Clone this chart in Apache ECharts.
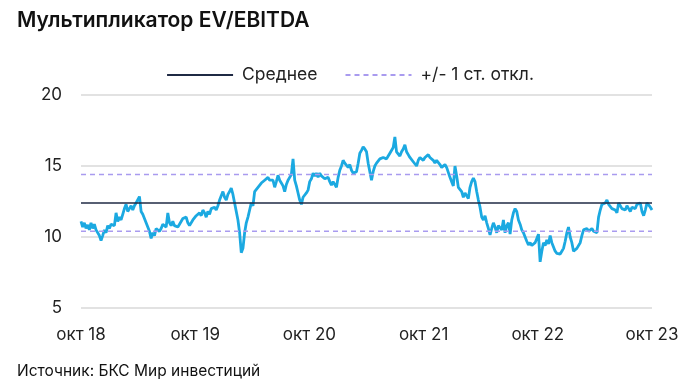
<!DOCTYPE html>
<html>
<head>
<meta charset="utf-8">
<script src="https://cdn.jsdelivr.net/npm/echarts@6/dist/echarts.min.js"></script>
<style>
  html, body { margin: 0; padding: 0; background: #fff; }
  #chart { width: 700px; height: 388px; }
</style>
</head>
<body>
<div id="chart"></div>
<script>
// Chart title and source
var titleText = 'Мультипликатор EV/EBITDA';
var sourceText = 'Источник: БКС Мир инвестиций';

// X axis: months since Oct 2018, labelled yearly
var xTickLabels = ['окт 18', 'окт 19', 'окт 20', 'окт 21', 'окт 22', 'окт 23'];
var xMonthsSpan = 60;

// Y axis
var yTicks = [5, 10, 15, 20];

// Legend names
var meanName = 'Среднее';
var sdName = '+/- 1 ст. откл.';

// Reference levels
var meanValue = 12.4;
var sdUpperValue = 14.4;
var sdLowerValue = 10.4;

// EV/EBITDA series (evenly spaced observations, Oct 2018 – Oct 2023)
var evEbitda = [
  11.1,10.7,11.0,10.6,10.85,10.5,11.0,10.6,10.9,10.5,10.4,10.1,9.75,10.1,10.5,10.3,10.8,10.6,10.9,11.0,
  10.8,11.7,11.1,11.4,11.2,11.6,12.0,12.3,11.8,12.0,12.2,11.9,12.2,12.4,12.5,12.85,11.8,11.6,11.3,11.0,
  10.7,10.4,9.9,10.3,10.1,10.6,10.7,10.4,10.6,10.9,10.8,10.7,11.7,11.0,10.8,11.1,10.8,10.9,10.7,10.9,
  11.0,11.3,11.2,11.4,11.0,10.8,10.9,11.2,11.3,11.5,11.4,11.7,11.5,11.9,11.7,11.4,11.8,11.6,12.0,12.0,
  12.1,11.9,12.2,12.6,12.9,13.2,12.8,12.6,13.0,13.2,13.45,13.0,12.4,11.8,11.2,10.3,8.9,9.2,10.3,11.0,
  11.4,11.9,12.4,12.2,13.2,13.3,13.5,13.6,13.8,13.9,14.0,14.1,14.2,
  14.0,13.9,14.0,13.5,13.9,14.35,14.0,13.8,13.6,13.2,13.7,14.0,14.2,14.4,15.5,14.0,13.6,13.1,12.6,12.3,
  12.8,12.7,13.1,13.3,13.9,14.1,14.5,14.3,14.5,14.2,14.5,14.3,14.3,14.1,14.0,14.2,13.9,13.65,13.9,13.8,
  13.5,14.2,14.7,15.0,15.4,15.2,15.3,14.9,15.1,14.7,14.5,14.6,14.6,15.2,15.9,16.1,16.35,16.2,16.0,15.2,
  14.6,14.0,14.6,15.0,15.2,15.3,15.5,15.4,15.6,15.6,15.5,15.7,15.9,16.0,16.3,17.05,16.0,15.9,15.7,16.0,
  16.2,16.5,16.0,15.8,15.6,15.5,15.3,15.2,15.0,15.4,15.6,15.7,15.4,15.6,15.7,15.8,15.6,15.7,15.4,15.2,
  15.4,15.3,15.1,14.9,15.0,15.1,14.9,14.85,14.2,
  13.9,13.6,15.0,14.3,13.5,13.4,13.2,12.8,13.1,12.9,12.7,13.5,13.9,14.15,13.9,13.2,12.6,12.1,11.4,11.2,
  11.5,11.0,10.6,10.15,10.6,11.0,10.7,10.3,10.8,10.9,10.5,11.2,10.3,10.8,11.0,10.2,11.2,11.7,12.0,11.8,
  11.2,10.9,10.5,10.3,10.0,9.7,9.45,9.6,9.4,9.5,9.6,9.9,10.2,8.25,9.0,9.6,9.4,9.8,9.5,10.1,
  9.6,9.3,9.0,8.85,8.9,8.8,9.0,9.2,9.7,10.3,10.7,10.0,9.6,9.0,8.9,9.2,9.3,9.6,10.1,10.5,
  10.4,10.6,10.4,10.5,10.6,10.4,10.5,10.3,11.4,11.9,12.3,12.2,12.4,12.6,12.3,12.2,12.0,12.1,11.9,11.7,
  12.4,12.2,12.0,12.1,11.9,12.2,12.0,11.8,12.1,12.2,12.0,12.3,12.2,12.4,11.8,11.5,11.9,12.4,12.3,12.1,
  11.9
];

var n = evEbitda.length;
var mainData = evEbitda.map(function (v, i) { return [i * xMonthsSpan / (n - 1), v]; });
function flat(v) { return [[0, v], [xMonthsSpan, v]]; }

var font = 'Inter, Roboto, "Noto Sans", sans-serif';
var chart = echarts.init(document.getElementById('chart'), null, { renderer: 'canvas' });
chart.setOption({
  animation: false,
  backgroundColor: '#ffffff',
  title: [
    { text: titleText, left: 12, top: 5,
      textStyle: { fontFamily: font, fontSize: 21, fontWeight: 600, color: '#111111' } },
    { text: sourceText, left: 12, top: 358,
      textStyle: { fontFamily: font, fontSize: 15.5, fontWeight: 400, color: '#111111' } }
  ],
  legend: {
    data: [meanName, sdName],
    top: 61,
    left: 'center',
    itemWidth: 66,
    itemHeight: 10,
    itemGap: 27,
    itemStyle: { opacity: 0 },
    textStyle: { fontFamily: font, fontSize: 17.5, color: '#222222', padding: [0, 0, 0, 4] }
  },
  grid: { left: 81, right: 48, top: 95, bottom: 80, containLabel: false },
  xAxis: {
    type: 'value',
    min: 0,
    max: xMonthsSpan,
    interval: 12,
    axisLine: { show: false },
    axisTick: { show: false },
    splitLine: { show: false },
    axisLabel: {
      margin: 18,
      fontFamily: font, fontSize: 17, color: '#222222',
      showMinLabel: true, showMaxLabel: true,
      formatter: function (v) { return xTickLabels[Math.round(v / 12)]; }
    }
  },
  yAxis: {
    type: 'value',
    min: yTicks[0],
    max: yTicks[yTicks.length - 1],
    interval: 5,
    axisLine: { show: false },
    axisTick: { show: false },
    splitLine: { show: true, lineStyle: { color: '#d9d9d9', width: 1.5 } },
    axisLabel: { margin: 19, fontFamily: font, fontSize: 17, color: '#222222' }
  },
  series: [
    { name: meanName, type: 'line', data: flat(meanValue), symbol: 'none', silent: true,
      lineStyle: { color: '#1f2a44', width: 1.5 }, itemStyle: { color: '#1f2a44' }, z: 3 },
    { name: sdName, type: 'line', data: flat(sdUpperValue), symbol: 'none', silent: true,
      lineStyle: { color: '#a99bef', width: 1.5, type: [5, 4] }, itemStyle: { color: '#a99bef' }, z: 3 },
    { name: sdName, type: 'line', data: flat(sdLowerValue), symbol: 'none', silent: true,
      lineStyle: { color: '#a99bef', width: 1.5, type: [5, 4] }, itemStyle: { color: '#a99bef' }, z: 3 },
    { name: 'EV/EBITDA', type: 'line', data: mainData, symbol: 'none',
      lineStyle: { color: '#1ba9e1', width: 2.8 }, itemStyle: { color: '#1ba9e1' }, z: 2 }
  ]
});
</script>
</body>
</html>
